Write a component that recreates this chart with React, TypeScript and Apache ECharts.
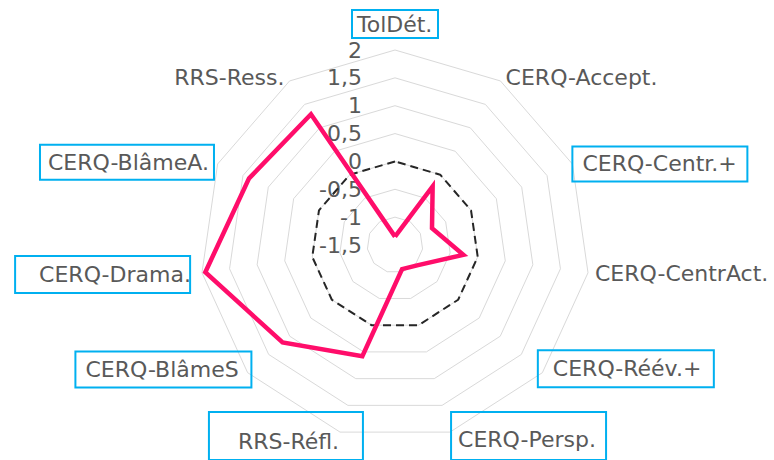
import React, { useEffect, useRef } from 'react';
import * as echarts from 'echarts';

// Axes, clockwise from the top
const categories = [
  'TolDét.',
  'CERQ-Accept.',
  'CERQ-Centr.+',
  'CERQ-CentrAct.',
  'CERQ-Réév.+',
  'CERQ-Persp.',
  'RRS-Réfl.',
  'CERQ-BlâmeS',
  'CERQ-Drama.',
  'CERQ-BlâmeA.',
  'RRS-Ress.',
];
const scores = [-1.35, -0.25, -0.77, -0.26, -0.95, -1.05, 0.58, 1.17, 1.94, 1.38, 1.29];
const reference = [0, 0, 0, 0, 0, 0, 0, 0, 0, 0, 0];
const axisMin = -1.5;
const axisMax = 2;
const axisStep = 0.5;

// Label box styling (not data)
type BoxStyle = { w: number; h: number; pl: number; pt?: number; pb?: number };
const boxStyles: Record<string, BoxStyle> = {
  'TolDét.': { w: 88, h: 28, pl: 5 },
  'CERQ-Centr.+': { w: 177, h: 35, pl: 10 },
  'CERQ-Réév.+': { w: 178, h: 37, pl: 15 },
  'CERQ-Persp.': { w: 157, h: 48, pl: 7, pt: 8 },
  'RRS-Réfl.': { w: 156, h: 48, pl: 29, pt: 12 },
  'CERQ-BlâmeS': { w: 178, h: 36, pl: 10 },
  'CERQ-Drama.': { w: 177, h: 37, pl: 24 },
  'CERQ-BlâmeA.': { w: 176, h: 35, pl: 8 },
};
// Per-label gap between the outer ring and its name (layout, not data)
const nameGaps: Record<string, number> = {
  'CERQ-Centr.+': 0,
  'CERQ-Réév.+': -6,
  'CERQ-BlâmeS': -5,
  'CERQ-Drama.': 12,
};
// Labels whose box extends to the right of their anchor
const centeredWithSpacer: Record<string, number> = {
  'RRS-Réfl.': 106,
};

const FONT = 'DejaVu Sans';
const TEXT = '#595959';

export default function App() {
  const ref = useRef<HTMLDivElement>(null);

  useEffect(() => {
    if (!ref.current) return;
    const chart = echarts.init(ref.current, undefined, { renderer: 'svg' });

    // ECharts places indicators counter-clockwise; reorder to get clockwise
    const order = [0, ...categories.map((_, i) => i).slice(1).reverse()];
    const names = order.map((i) => categories[i]);
    const orderedScores = order.map((i) => scores[i]);
    const orderedRef = order.map((i) => reference[i]);

    const rich: Record<string, any> = {};
    categories.forEach((name, i) => {
      const b = boxStyles[name];
      if (b) {
        const pt = b.pt ?? 0;
        const pb = b.pb ?? 0;
        const inner = b.h - pt - pb - 4;
        rich['k' + i] = {
          color: TEXT,
          fontFamily: FONT,
          fontSize: 22,
          borderColor: '#00B0F0',
          borderWidth: 2,
          width: b.w - b.pl - 4,
          height: inner,
          lineHeight: inner,
          padding: [pt + 2, 2, pb + 2, b.pl],
          align: 'left',
        };
      } else {
        rich['k' + i] = {
          color: TEXT,
          fontFamily: FONT,
          fontSize: 22,
          lineHeight: 26,
          padding: [0, 3, 0, 3],
        };
      }
      if (centeredWithSpacer[name] != null) {
        rich['s' + i] = { width: centeredWithSpacer[name], height: 10 };
      }
    });

    const fmt = (v: number) => String(v).replace('.', ',');

    chart.setOption({
      animation: false,
      textStyle: { fontFamily: FONT },
      radar: {
        center: [395, 245],
        radius: 195,
        startAngle: 90,
        splitNumber: Math.round((axisMax - axisMin) / axisStep),
        shape: 'polygon',
        nameGap: 4,
        axisName: {
          color: TEXT,
          fontFamily: FONT,
          fontSize: 22,
          formatter: (name: string) => {
            const i = categories.indexOf(name);
            const sp = centeredWithSpacer[name] != null ? `{s${i}|}` : '';
            return `{k${i}|${name}}${sp}`;
          },
          rich,
        },
        axisLine: { show: false },
        axisTick: { show: false },
        axisLabel: { show: false },
        splitLine: { lineStyle: { color: '#D9D9D9', width: 1 } },
        splitArea: { show: false },
        indicator: names.map((name, i) => ({
          name,
          min: axisMin,
          max: axisMax,
          ...(nameGaps[name] != null ? { nameGap: nameGaps[name] } : {}),
          ...(centeredWithSpacer[name] != null ? { nameTextStyle: { align: 'center' } } : {}),
          ...(i === 0
            ? {
                axisLabel: {
                  show: true,
                  color: TEXT,
                  fontFamily: FONT,
                  fontSize: 22,
                  margin: 33,
                  formatter: fmt,
                  showMinLabel: true,
                  showMaxLabel: true,
                },
              }
            : {}),
        })),
      },
      series: [
        {
          type: 'radar',
          symbol: 'none',
          silent: true,
          data: [
            {
              value: orderedRef,
              lineStyle: { color: '#262626', width: 2, type: [8, 5] },
            },
            {
              value: orderedScores,
              lineStyle: { color: '#FF0D6A', width: 4.5, join: 'miter' },
            },
          ],
        },
      ],
    });

    return () => chart.dispose();
  }, []);

  return (
    <div
      ref={ref}
      style={{ position: 'fixed', left: 0, top: 0, width: 774, height: 460, background: '#fff' }}
    />
  );
}
